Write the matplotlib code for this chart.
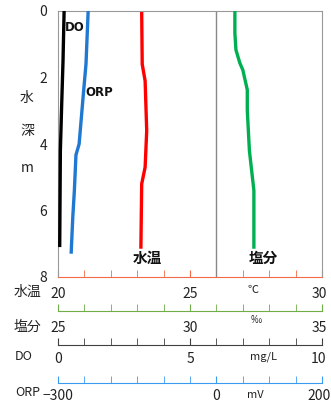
import numpy as np
import matplotlib
matplotlib.use('Agg')
import matplotlib.pyplot as plt
from matplotlib.transforms import ScaledTranslation

plt.rcParams['font.family'] = ['Noto Sans CJK JP', 'DejaVu Sans']

# depth profiles (m)
do_depth = [0.05, 1.5, 2.8, 4.2, 7.05]
do_val = [0.23, 0.19, 0.14, 0.09, 0.065]

orp_depth = [0.05, 1.6, 2.5, 4.0, 4.33, 5.4, 6.2, 7.25]
orp_val = [-243, -247, -252, -260, -266, -269, -272, -275]

temp_depth = [0.05, 1.6, 2.1, 3.6, 4.7, 5.2, 7.1]
temp_val = [23.17, 23.19, 23.30, 23.36, 23.30, 23.17, 23.14]

sal_depth = [0.02, 0.67, 1.17, 1.57, 1.77, 2.37, 2.98, 4.2, 5.4, 7.1]
sal_val = [31.7, 31.7, 31.74, 31.89, 32.0, 32.17, 32.17, 32.25, 32.42, 32.42]

W, H = 331, 405
fig = plt.figure(figsize=(W / 100, H / 100), dpi=100)

L, R, T, B = 58, 322, 11, 277
def fx(px):
    return px / W
def fy(py):
    return 1 - py / H

def shift_last_label(a):
    lab = a.get_xticklabels()[-1]
    lab.set_transform(lab.get_transform() + ScaledTranslation(-3 / 100, 0, fig.dpi_scale_trans))

def unit_text(a, x, s, dy, size=8):
    a.annotate(s, xy=(x, 0), xycoords=('data', 'axes fraction'),
               xytext=(0, -dy), textcoords='offset pixels',
               ha='center', va='center', fontsize=size, color='#222222')

ax = fig.add_axes([fx(L), fy(B), fx(R - L), (B - T) / H])
ax.set_ylim(8, 0)
ax.set_xlim(20, 30)
for s in ['top', 'left', 'right']:
    ax.spines[s].set_color('#999999')
ax.spines['bottom'].set_color('#f26a4a')
ax.set_yticks([0, 2, 4, 6, 8])
ax.tick_params(axis='y', length=0, pad=8, labelsize=10, labelcolor='#222222')
ax.set_xticks([20, 25, 30])
ax.set_xticks(np.arange(20, 31, 1), minor=True)
ax.tick_params(axis='x', which='both', direction='in', length=5,
               color='#f26a4a', labelsize=10, pad=7, labelcolor='#222222')
shift_last_label(ax)
ax.axvline(26, color='#888888', lw=1)
unit_text(ax, 27.4, '℃', 13)
ax.plot(temp_val, temp_depth, color='#ff0000', lw=2.4, solid_joinstyle='round')
ax.text(23.4, 7.43, '水温', ha='center', va='center', fontsize=10.5,
        fontweight='bold', color='#111111')

def data_axes(lo, hi):
    a = ax.twiny()
    a.set_xlim(lo, hi)
    a.axis('off')
    return a

ax_do = data_axes(0, 10)
ax_do.plot(do_val, do_depth, color='#000000', lw=2.4, solid_joinstyle='round')
ax_do.text(0.27, 0.5, 'DO', ha='left', va='center', fontsize=8.5,
           fontweight='bold', color='#111111', family='DejaVu Sans')

ax_orp = data_axes(-300, 200)
ax_orp.plot(orp_val, orp_depth, color='#1f78d1', lw=2.4, solid_joinstyle='round')
ax_orp.text(-249, 2.44, 'ORP', ha='left', va='center', fontsize=8.5,
            fontweight='bold', color='#111111', family='DejaVu Sans')

ax_sal = data_axes(25, 35)
ax_sal.plot(sal_val, sal_depth, color='#00b050', lw=2.4, solid_joinstyle='round')
ax_sal.text(32.77, 7.43, '塩分', ha='center', va='center', fontsize=10.5,
            fontweight='bold', color='#111111')

# extra scales under the plot
def scale_axes(py, lo, hi, major, minor, color, pad, unit, unit_x, unit_dy):
    a = fig.add_axes([fx(L), fy(py), fx(R - L), 0.0001])
    a.set_xlim(lo, hi)
    a.set_yticks([])
    for s in ['top', 'left', 'right']:
        a.spines[s].set_visible(False)
    a.spines['bottom'].set_color(color)
    a.patch.set_alpha(0)
    a.set_xticks(major)
    a.set_xticks(minor, minor=True)
    a.tick_params(axis='x', which='both', direction='in', length=5,
                  color=color, labelsize=10, pad=pad, labelcolor='#222222')
    shift_last_label(a)
    unit_text(a, unit_x, unit, unit_dy)
    return a

scale_axes(311, 25, 35, [25, 30, 35], np.arange(25, 36, 1), '#70ad47', 7.3, '‰', 32.5, 9)
scale_axes(345, 0, 10, [0, 5, 10], np.arange(0, 11, 1), '#404040', 5, 'mg/L', 7.77, 12)
scale_axes(383, -300, 200, [-300, 0, 200], np.arange(-300, 201, 50), '#3a9cf0', 4.3, 'mV', 73, 12)

# left labels
fig.text(fx(27), fy(292), '水温', ha='center', va='center', fontsize=10, color='#222222')
fig.text(fx(27), fy(327), '塩分', ha='center', va='center', fontsize=10, color='#222222')
fig.text(fx(24), fy(357), 'DO', ha='center', va='center', fontsize=9, color='#222222')
fig.text(fx(28), fy(393), 'ORP', ha='center', va='center', fontsize=9, color='#222222')

fig.text(fx(27), fy(98), '水', ha='center', va='center', fontsize=10, color='#222222')
fig.text(fx(27), fy(131), '深', ha='center', va='center', fontsize=10, color='#222222')
fig.text(fx(27), fy(168), 'm', ha='center', va='center', fontsize=10, color='#222222')

fig.savefig('out.png', dpi=100)
